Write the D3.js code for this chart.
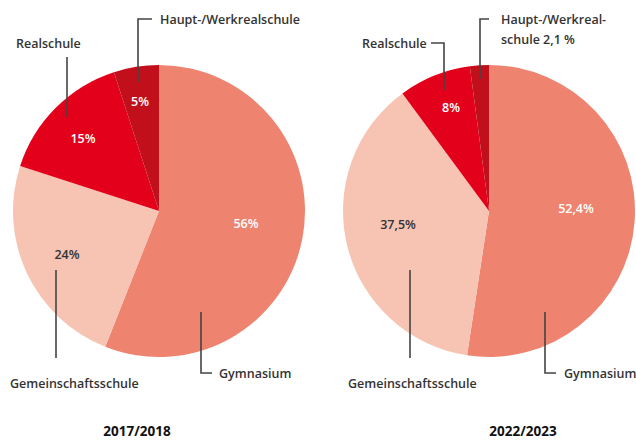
<!DOCTYPE html>
<html><head><meta charset="utf-8">
<script src="https://cdn.jsdelivr.net/npm/d3@7"></script>
<style>
body{margin:0;background:#fff;}
text{font-family:"Open Sans",sans-serif;}
</style></head>
<body><svg id="c" width="636" height="441"></svg>
<script>
const categories = ["Gymnasium","Gemeinschaftsschule","Realschule","Haupt-/Werkrealschule"];
const values2017 = [56,24,15,5];
const values2022 = [52.4,37.5,8,2.1];
const valueLabels2017 = ["56%","24%","15%","5%"];
const valueLabels2022 = ["52,4%","37,5%","8%",""];
const years = ["2017/2018","2022/2023"];
const colors = ["#ee8470","#f7c3b2","#e3001b","#c1101c"];
const labelColors = ["#fff","#333","#fff","#fff"];

const svg = d3.select("#c");
const R = 146;
const pie = d3.pie().sort(null).value(d=>d);
const arc = d3.arc().innerRadius(0).outerRadius(R);
const fs = 12.5;

function drawPie(cx, cy, vals, vlabels, labelPos, year, titleX){
  const g = svg.append("g").attr("transform",`translate(${cx},${cy})`);
  const arcs = pie(vals);
  g.selectAll("path").data(arcs).enter().append("path")
    .attr("d",arc).attr("fill",(d,i)=>colors[i]);
  g.selectAll("text.v").data(arcs).enter().append("text")
    .attr("class","v")
    .attr("x",(d,i)=>labelPos[i][0]).attr("y",(d,i)=>labelPos[i][1])
    .attr("text-anchor","middle").attr("dominant-baseline","central")
    .attr("font-size",fs).attr("font-weight",600).attr("fill",(d,i)=>labelColors[i])
    .text((d,i)=>vlabels[i]);
  svg.append("text").attr("x",titleX).attr("y",436)
    .attr("text-anchor","middle")
    .attr("font-size",13.5).attr("font-weight","bold").attr("fill","#111")
    .text(year);
}

// value label positions relative to pie centre
drawPie(159,211,values2017,valueLabels2017,[[87,12],[-92,43],[-76,-73],[-19,-110]],years[0],137);
drawPie(489,211,values2022,valueLabels2022,[[87,-3],[-91,13],[-38,-104],[0,0]],years[1],523);

const lc = "#444";
function lead(points){
  svg.append("path").attr("d",d3.line()(points)).attr("fill","none")
    .attr("stroke",lc).attr("stroke-width",1.6);
}
function label(x,y,t,anchor){
  svg.append("text").attr("x",x).attr("y",y).attr("text-anchor",anchor||"start")
    .attr("dominant-baseline","central").attr("font-size",fs).attr("font-weight",600)
    .attr("fill","#333").text(t);
}
// left pie
lead([[138,82],[138,19],[152,19]]);
label(160,19,categories[3]);
lead([[67,57],[67,117]]);
label(16,43,categories[2]);
lead([[56,270],[56,358]]);
label(10,383,categories[1]);
lead([[201,312],[201,373],[212,373]]);
label(219,373,categories[0]);
// right pie
lead([[480,79],[480,19],[489,19]]);
label(501,19,"Haupt-/Werkreal-");
label(501,39,"schule 2,1 %");
lead([[431,43],[444,43],[444,90]]);
label(362,43,categories[2]);
lead([[410,270],[410,358]]);
label(348,383,categories[1]);
lead([[545,312],[545,373],[556,373]]);
label(564,373,categories[0]);
</script></body></html>
